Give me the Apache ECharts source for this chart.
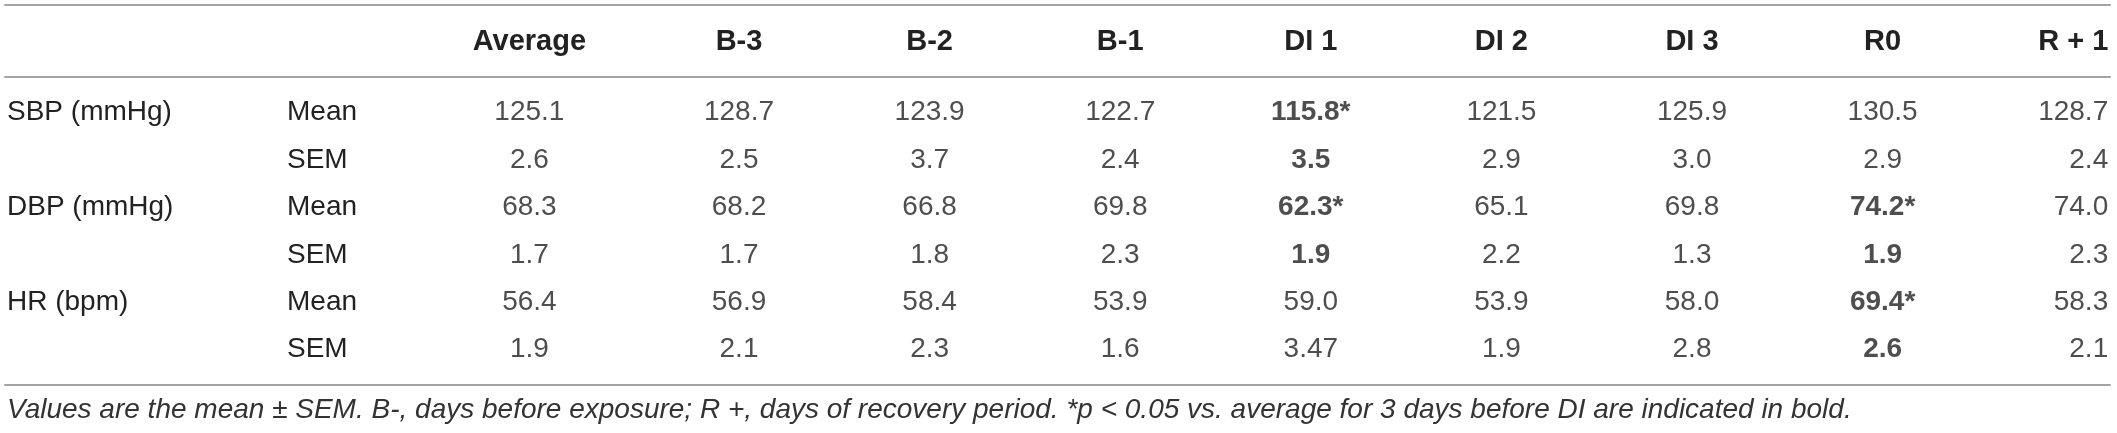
<!DOCTYPE html>
<html>
<head>
<meta charset="utf-8">
<script src="https://cdn.jsdelivr.net/npm/echarts@6/dist/echarts.min.js"></script>
<style>
  html, body { margin: 0; padding: 0; background: #fff; }
  #table { width: 2117px; height: 433px; }
</style>
</head>
<body>
<div id="table"></div>
<script>
const columns = ['Average', 'B-3', 'B-2', 'B-1', 'DI 1', 'DI 2', 'DI 3', 'R0', 'R + 1'];
const groups = ['SBP (mmHg)', 'DBP (mmHg)', 'HR (bpm)'];
const stats = ['Mean', 'SEM'];

const sbpMean = ['125.1', '128.7', '123.9', '122.7', '115.8', '121.5', '125.9', '130.5', '128.7'];
const sbpSem  = ['2.6', '2.5', '3.7', '2.4', '3.5', '2.9', '3.0', '2.9', '2.4'];
const dbpMean = ['68.3', '68.2', '66.8', '69.8', '62.3', '65.1', '69.8', '74.2', '74.0'];
const dbpSem  = ['1.7', '1.7', '1.8', '2.3', '1.9', '2.2', '1.3', '1.9', '2.3'];
const hrMean  = ['56.4', '56.9', '58.4', '53.9', '59.0', '53.9', '58.0', '69.4', '58.3'];
const hrSem   = ['1.9', '2.1', '2.3', '1.6', '3.47', '1.9', '2.8', '2.6', '2.1'];

// [row, col] of cells that differ from baseline (shown bold)
const boldCells = [[0, 4], [1, 4], [2, 4], [3, 4], [2, 7], [3, 7], [4, 7], [5, 7]];

const footnote = 'Values are the mean \u00b1 SEM. B-, days before exposure; R +, days of recovery period. *p < 0.05 vs. average for 3 days before DI are indicated in bold.';

const rows = [sbpMean, sbpSem, dbpMean, dbpSem, hrMean, hrSem];
const rowNames = [];
const groupNames = [];
groups.forEach(g => {
  stats.forEach((s, k) => {
    rowNames.push(s);
    groupNames.push(k === 0 ? g : '');
  });
});

const isBold = (r, c) => boldCells.some(b => b[0] === r && b[1] === c);
const lastCol = columns.length - 1;

const cells = [];
rows.forEach((vals, r) => {
  vals.forEach((v, c) => {
    const bold = isBold(r, c);
    cells.push({
      value: [c, r],
      label: {
        formatter: v + (bold && r % 2 === 0 ? '*' : ''),
        fontWeight: bold ? 'bold' : 'normal',
        // first column sits a little left, last one is right aligned
        align: c === lastCol ? 'right' : 'center',
        offset: c === lastCol ? [35, 0] : (c === 0 ? [-19, 0] : [0, 0])
      }
    });
  });
});

const FONT = "'Liberation Sans', Arial, sans-serif";
const TEXT = '#222';
const RULE = { show: true, lineStyle: { color: '#a3a3a3', width: 2 } };
// column centres ~190.6px apart
const XMIN = -2.851;
const XMAX = 8.193;
const colIdx = columns.map((d, i) => i);

const chart = echarts.init(document.getElementById('table'));
chart.setOption({
  animation: false,
  backgroundColor: '#fff',
  title: {
    text: footnote,
    left: 5,
    top: 396,
    padding: [0, 0, 0, 2],
    textStyle: { fontFamily: FONT, fontStyle: 'italic', fontWeight: 'normal', fontSize: 28, color: '#333' }
  },
  grid: { left: 5, right: 7, top: 89, height: 284.4 },
  xAxis: [
    {
      type: 'value', position: 'top', min: XMIN, max: XMAX, offset: 12,
      axisLine: RULE, axisTick: { show: false }, splitLine: { show: false },
      axisLabel: {
        customValues: colIdx,
        formatter: v => (v === 0 ? '{first|' + columns[0] + '}' : columns[v]),
        rich: { first: { padding: [0, 38, 0, 0] } },
        margin: 35,
        verticalAlign: 'middle',
        fontFamily: FONT, fontSize: 29, fontWeight: 'bold', color: TEXT
      }
    },
    {
      type: 'value', position: 'bottom', min: XMIN, max: XMAX, offset: 11.6,
      axisLine: RULE, axisTick: { show: false }, splitLine: { show: false }, axisLabel: { show: false }
    },
    {
      type: 'value', position: 'top', min: XMIN, max: XMAX, offset: 84,
      axisLine: RULE, axisTick: { show: false }, splitLine: { show: false }, axisLabel: { show: false }
    }
  ],
  yAxis: [
    {
      type: 'category', inverse: true, data: rowNames,
      axisLine: { show: false }, axisTick: { show: false },
      axisLabel: { interval: 0, align: 'left', margin: -282, fontFamily: FONT, fontSize: 28, color: TEXT }
    },
    {
      type: 'category', inverse: true, data: groupNames, position: 'left',
      axisLine: { show: false }, axisTick: { show: false },
      axisLabel: { interval: 0, align: 'left', margin: -2, fontFamily: FONT, fontSize: 28, color: TEXT }
    }
  ],
  series: [{
    type: 'scatter',
    silent: true,
    symbolSize: 1,
    itemStyle: { color: 'transparent' },
    label: { show: true, position: 'inside', fontFamily: FONT, fontSize: 28, color: TEXT },
    data: cells
  }]
});
</script>
</body>
</html>
